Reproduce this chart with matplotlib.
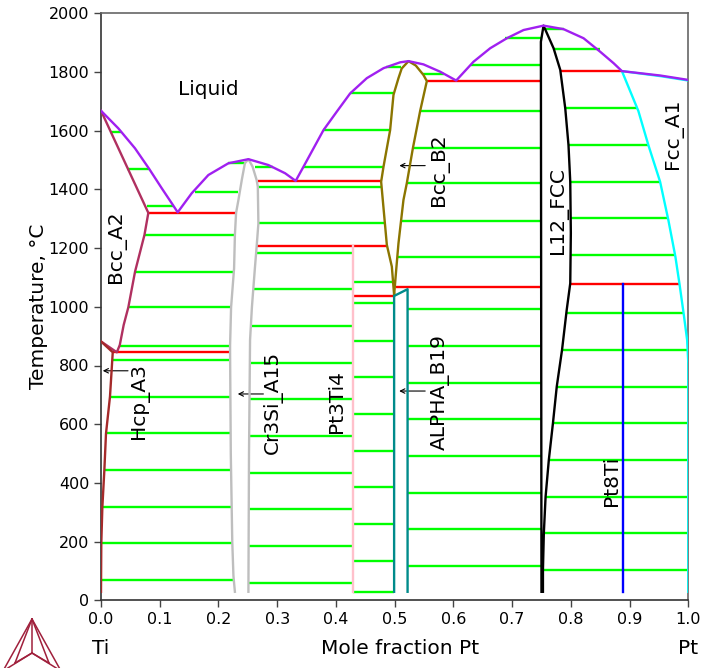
import numpy as np
import matplotlib.pyplot as plt
from matplotlib.lines import Line2D

# ---- phase boundaries (mole fraction Pt, T in C) ----
liq_x = [0.0, 0.0295, 0.0579, 0.082, 0.1034, 0.1204, 0.1306, 0.1545, 0.1828, 0.2169, 0.251,
         0.285, 0.3135, 0.3315, 0.3447, 0.3788, 0.4015, 0.4242, 0.4526, 0.481, 0.5094, 0.5236,
         0.549, 0.5775, 0.6048, 0.6343, 0.6627, 0.6911, 0.7195, 0.7535, 0.7876, 0.8217, 0.850,
         0.8728, 0.887, 0.9523, 1.0]
liq_T = [1668, 1608, 1540, 1470, 1404, 1353, 1322, 1387, 1449, 1489, 1503,
         1483, 1455, 1429, 1477, 1602, 1665, 1727, 1779, 1813, 1833, 1837,
         1826, 1801, 1771, 1835, 1881, 1915, 1943, 1958, 1946, 1915, 1869,
         1830, 1803, 1788, 1773]

bcc_a2_x = [0.0, 0.0806, 0.074, 0.058, 0.0465, 0.0386, 0.032, 0.027, 0.0]
bcc_a2_T = [1668, 1320, 1245, 1120, 998, 938, 870, 845, 882]

hcp_x = [0.0, 0.020, 0.0153, 0.0085, 0.0057, 0.0023, 0.0005, 0.0]
hcp_T = [882, 845, 694, 568, 443, 317, 194, 29]

cr3si_x = [0.228, 0.2255, 0.2235, 0.221, 0.2198, 0.2198, 0.2215, 0.2266, 0.228, 0.230, 0.234,
           0.2397, 0.245, 0.251, 0.258, 0.265, 0.267, 0.268, 0.265, 0.262, 0.257, 0.2538,
           0.252, 0.251]
cr3si_T = [29, 83, 200, 500, 845, 870, 998, 1131, 1245, 1320, 1364,
           1432, 1489, 1503, 1478, 1432, 1409, 1284, 1205, 1131, 1000, 887,
           500, 29]

bcc_b2_x = [0.4991, 0.4952, 0.4867, 0.477, 0.481, 0.4923, 0.498, 0.5065, 0.512, 0.5236,
            0.536, 0.549, 0.5548, 0.5434, 0.531, 0.5207, 0.515, 0.509,
            0.5065, 0.5026, 0.4991]
bcc_b2_T = [1040, 1137, 1211, 1426, 1477, 1602, 1722, 1779, 1812, 1837,
            1822, 1790, 1769, 1667, 1540, 1421, 1364, 1260,
            1216, 1125, 1040]

pt3ti4_x = [0.4288, 0.4288]
pt3ti4_T = [1208, 29]

alpha_x = [0.4991, 0.4991, 0.522, 0.522]
alpha_T = [29, 1037, 1060, 29]

l12_x = [0.750, 0.749, 0.7535, 0.7706, 0.782, 0.7905, 0.796, 0.799, 0.800, 0.799, 0.793,
         0.785, 0.776, 0.7695, 0.7625, 0.757, 0.754, 0.7525, 0.7525]
l12_T = [29, 1903, 1958, 1881, 1807, 1676, 1551, 1426, 1251, 1080, 990,
         853, 728, 603, 478, 353, 228, 103, 29]

fcc_x = [1.0, 0.9523, 0.887, 0.915, 0.932, 0.952, 0.966, 0.978, 0.985, 0.992, 0.998, 1.0, 1.0]
fcc_T = [1771, 1786, 1803, 1667, 1551, 1426, 1296, 1171, 1078, 978, 887, 808, 29]

pt8ti_x = [0.889, 0.889]
pt8ti_T = [1078, 29]

# invariant reactions (red)
inv_T = [1319, 845, 1428, 1208, 1037, 1068, 1770, 1803, 1078]
inv_x0 = [0.0806, 0.020, 0.268, 0.265, 0.4288, 0.5026, 0.5548, 0.782, 0.799]
inv_x1 = [0.230, 0.2198, 0.477, 0.4867, 0.4991, 0.750, 0.750, 0.887, 0.985]

# tie lines (green)
tie_T = [1595, 1470, 1343,                                   # Liquid + Bcc_A2
         1245, 1120, 998, 867,                               # Bcc_A2 + Cr3Si
         819, 694, 569, 444, 319, 194, 69,                   # Hcp_A3 + Cr3Si
         1490, 1392, 1477,                                   # Liquid + Cr3Si
         1409, 1287,                                         # Cr3Si + Bcc_B2
         1184, 1060, 934, 810, 685, 560, 435, 310, 185, 58,  # Cr3Si + Pt3Ti4
         1086,                                               # Pt3Ti4 + Bcc_B2
         1012, 884, 760, 635, 510, 385, 260, 135, 29,        # Pt3Ti4 + ALPHA_B19
         1477, 1602, 1727, 1818, 1794,                       # Liquid + Bcc_B2
         1667, 1542, 1421, 1293, 1169,                       # Bcc_B2 + L12
         993, 866, 741, 617, 492, 367, 242, 117,             # ALPHA_B19 + L12
         1915, 1824, 1946, 1877,                             # Liquid + L12
         1676, 1551, 1426, 1302, 1177,                       # L12 + Fcc_A1
         978, 853, 728, 603, 478, 353, 228, 103]             # L12 + Pt8Ti + Fcc_A1
tie_x0 = [0.0153, 0.0437, 0.0778,
          0.074, 0.058, 0.0465, 0.030,
          0.021, 0.0153, 0.0085, 0.0057, 0.0023, 0.001, 0.001,
          0.2169, 0.160, 0.2624,
          0.267, 0.268,
          0.2655, 0.260, 0.2545, 0.2535, 0.253, 0.2525, 0.252, 0.252, 0.2515, 0.2515,
          0.4288,
          0.4288, 0.4288, 0.4288, 0.4288, 0.4288, 0.4288, 0.4288, 0.4288, 0.4288,
          0.3447, 0.3788, 0.4242, 0.486, 0.549,
          0.5434, 0.531, 0.5207, 0.511, 0.5055,
          0.522, 0.522, 0.522, 0.522, 0.522, 0.522, 0.522, 0.522,
          0.688, 0.630, 0.757, 0.771,
          0.7905, 0.796, 0.799, 0.800, 0.800,
          0.793, 0.785, 0.776, 0.7695, 0.7625, 0.757, 0.754, 0.7525]
tie_x1 = [0.034, 0.082, 0.1235,
          0.227, 0.2245, 0.2215, 0.2198,
          0.2198, 0.2198, 0.2200, 0.221, 0.222, 0.2235, 0.2255,
          0.2445, 0.234, 0.293,
          0.477, 0.4838,
          0.4288, 0.4288, 0.4288, 0.4288, 0.4288, 0.4288, 0.4288, 0.4288, 0.4288, 0.4288,
          0.4952,
          0.4991, 0.4991, 0.4991, 0.4991, 0.4991, 0.4991, 0.4991, 0.4991, 0.4991,
          0.481, 0.4923, 0.498, 0.511, 0.584,
          0.750, 0.750, 0.750, 0.750, 0.750,
          0.750, 0.750, 0.750, 0.750, 0.750, 0.750, 0.750, 0.750,
          0.750, 0.750, 0.788, 0.850,
          0.9126, 0.932, 0.952, 0.966, 0.978,
          0.992, 0.998, 1.0, 1.0, 1.0, 1.0, 1.0, 1.0]

fig = plt.figure(figsize=(7.04, 6.68), dpi=100)
ax = fig.add_axes([101/704, 1-600.3/668, 587.3/704, 587/668])

lw = 1.7
for T, a, b in zip(tie_T, tie_x0, tie_x1):
    ax.plot([a, b], [T, T], color="#00ff00", lw=lw, zorder=2, solid_capstyle="butt")
for T, a, b in zip(inv_T, inv_x0, inv_x1):
    ax.plot([a, b], [T, T], color="#ff0000", lw=lw, zorder=3, solid_capstyle="butt")

ax.plot(fcc_x, fcc_T, color="#00ffff", lw=lw, zorder=4)
ax.plot(liq_x, liq_T, color="#a020f0", lw=lw, zorder=5)
ax.plot(bcc_a2_x, bcc_a2_T, color="#b03060", lw=lw, zorder=4)
ax.plot(hcp_x, hcp_T, color="#a52a2a", lw=lw, zorder=4)
ax.plot(cr3si_x, cr3si_T, color="#bebebe", lw=lw, zorder=4)
ax.plot(bcc_b2_x, bcc_b2_T, color="#8b7500", lw=lw, zorder=4)
ax.plot(pt3ti4_x, pt3ti4_T, color="#ffc0cb", lw=lw, zorder=4)
ax.plot(alpha_x, alpha_T, color="#008b8b", lw=lw, zorder=4)
ax.plot(l12_x, l12_T, color="black", lw=lw, zorder=4)
ax.plot(pt8ti_x, pt8ti_T, color="#0000ff", lw=lw, zorder=4)

fs = 14.5
ax.text(0.1823, 1741, "Liquid", fontsize=fs, ha="center", va="center")
ax.text(0.0267, 1205, "Bcc_A2", fontsize=fs, rotation=90, ha="center", va="center")
ax.text(0.066, 679, "Hcp_A3", fontsize=fs, rotation=90, ha="center", va="center")
ax.text(0.2935, 674, "Cr3Si_A15", fontsize=fs, rotation=90, ha="center", va="center")
ax.text(0.4015, 677, "Pt3Ti4", fontsize=fs, rotation=90, ha="center", va="center")
ax.text(0.5775, 708, "ALPHA_B19", fontsize=fs, rotation=90, ha="center", va="center")
ax.text(0.5764, 1466, "Bcc_B2", fontsize=fs, rotation=90, ha="center", va="center")
ax.text(0.779, 1327, "L12_FCC", fontsize=fs, rotation=90, ha="center", va="center")
ax.text(0.870, 407, "Pt8Ti", fontsize=fs, rotation=90, ha="center", va="center")
ax.text(0.975, 1591, "Fcc_A1", fontsize=fs, rotation=90, ha="center", va="center")

arrow = dict(arrowstyle="->", lw=0.8, color="black", mutation_scale=8, shrinkA=0, shrinkB=0)
ax.annotate("", xy=(0.003, 782), xytext=(0.046, 782), arrowprops=arrow)
ax.annotate("", xy=(0.2329, 703), xytext=(0.2765, 703), arrowprops=arrow)
ax.annotate("", xy=(0.5077, 713), xytext=(0.552, 713), arrowprops=arrow)
ax.annotate("", xy=(0.508, 1481), xytext=(0.552, 1481), arrowprops=arrow)

ax.set_xlim(0, 1)
ax.set_ylim(0, 2000)
ax.set_xticks(np.arange(0, 1.01, 0.1))
ax.set_yticks(np.arange(0, 2001, 200))
ax.xaxis.set_major_formatter(plt.FormatStrFormatter("%.1f"))
ax.tick_params(labelsize=11.5, direction="out", length=5, width=1, color="#444444")
for s in ax.spines.values():
    s.set_color("#666666")
    s.set_linewidth(1.2)
ax.spines["left"].set_color("#333333")
ax.spines["bottom"].set_color("#333333")

ax.text(-0.107, 0.5, "Temperature, \u00b0C", transform=ax.transAxes, fontsize=fs,
        rotation=90, ha="center", va="center")
ax.text(0.509, -0.0813, "Mole fraction Pt", transform=ax.transAxes, fontsize=fs, ha="center", va="center")
ax.text(0.0, -0.0813, "Ti", transform=ax.transAxes, fontsize=fs, ha="center", va="center")
ax.text(1.0, -0.0813, "Pt", transform=ax.transAxes, fontsize=fs, ha="center", va="center")

# logo
def px(x, y):
    return x / 704, 1 - y / 668
logo_c = "#a0203c"
A, B, C, O = (32, 619), (3, 671), (61, 671), (32, 653)
P, Q = (15, 663), (49, 663)
for p, q in [(A, B), (B, C), (C, A), (A, O), (B, O), (C, O), (A, P), (A, Q), (P, O), (Q, O)]:
    (x0, y0), (x1, y1) = px(*p), px(*q)
    fig.add_artist(Line2D([x0, x1], [y0, y1], color=logo_c, lw=1.1))

fig.savefig("out.png", dpi=100)
